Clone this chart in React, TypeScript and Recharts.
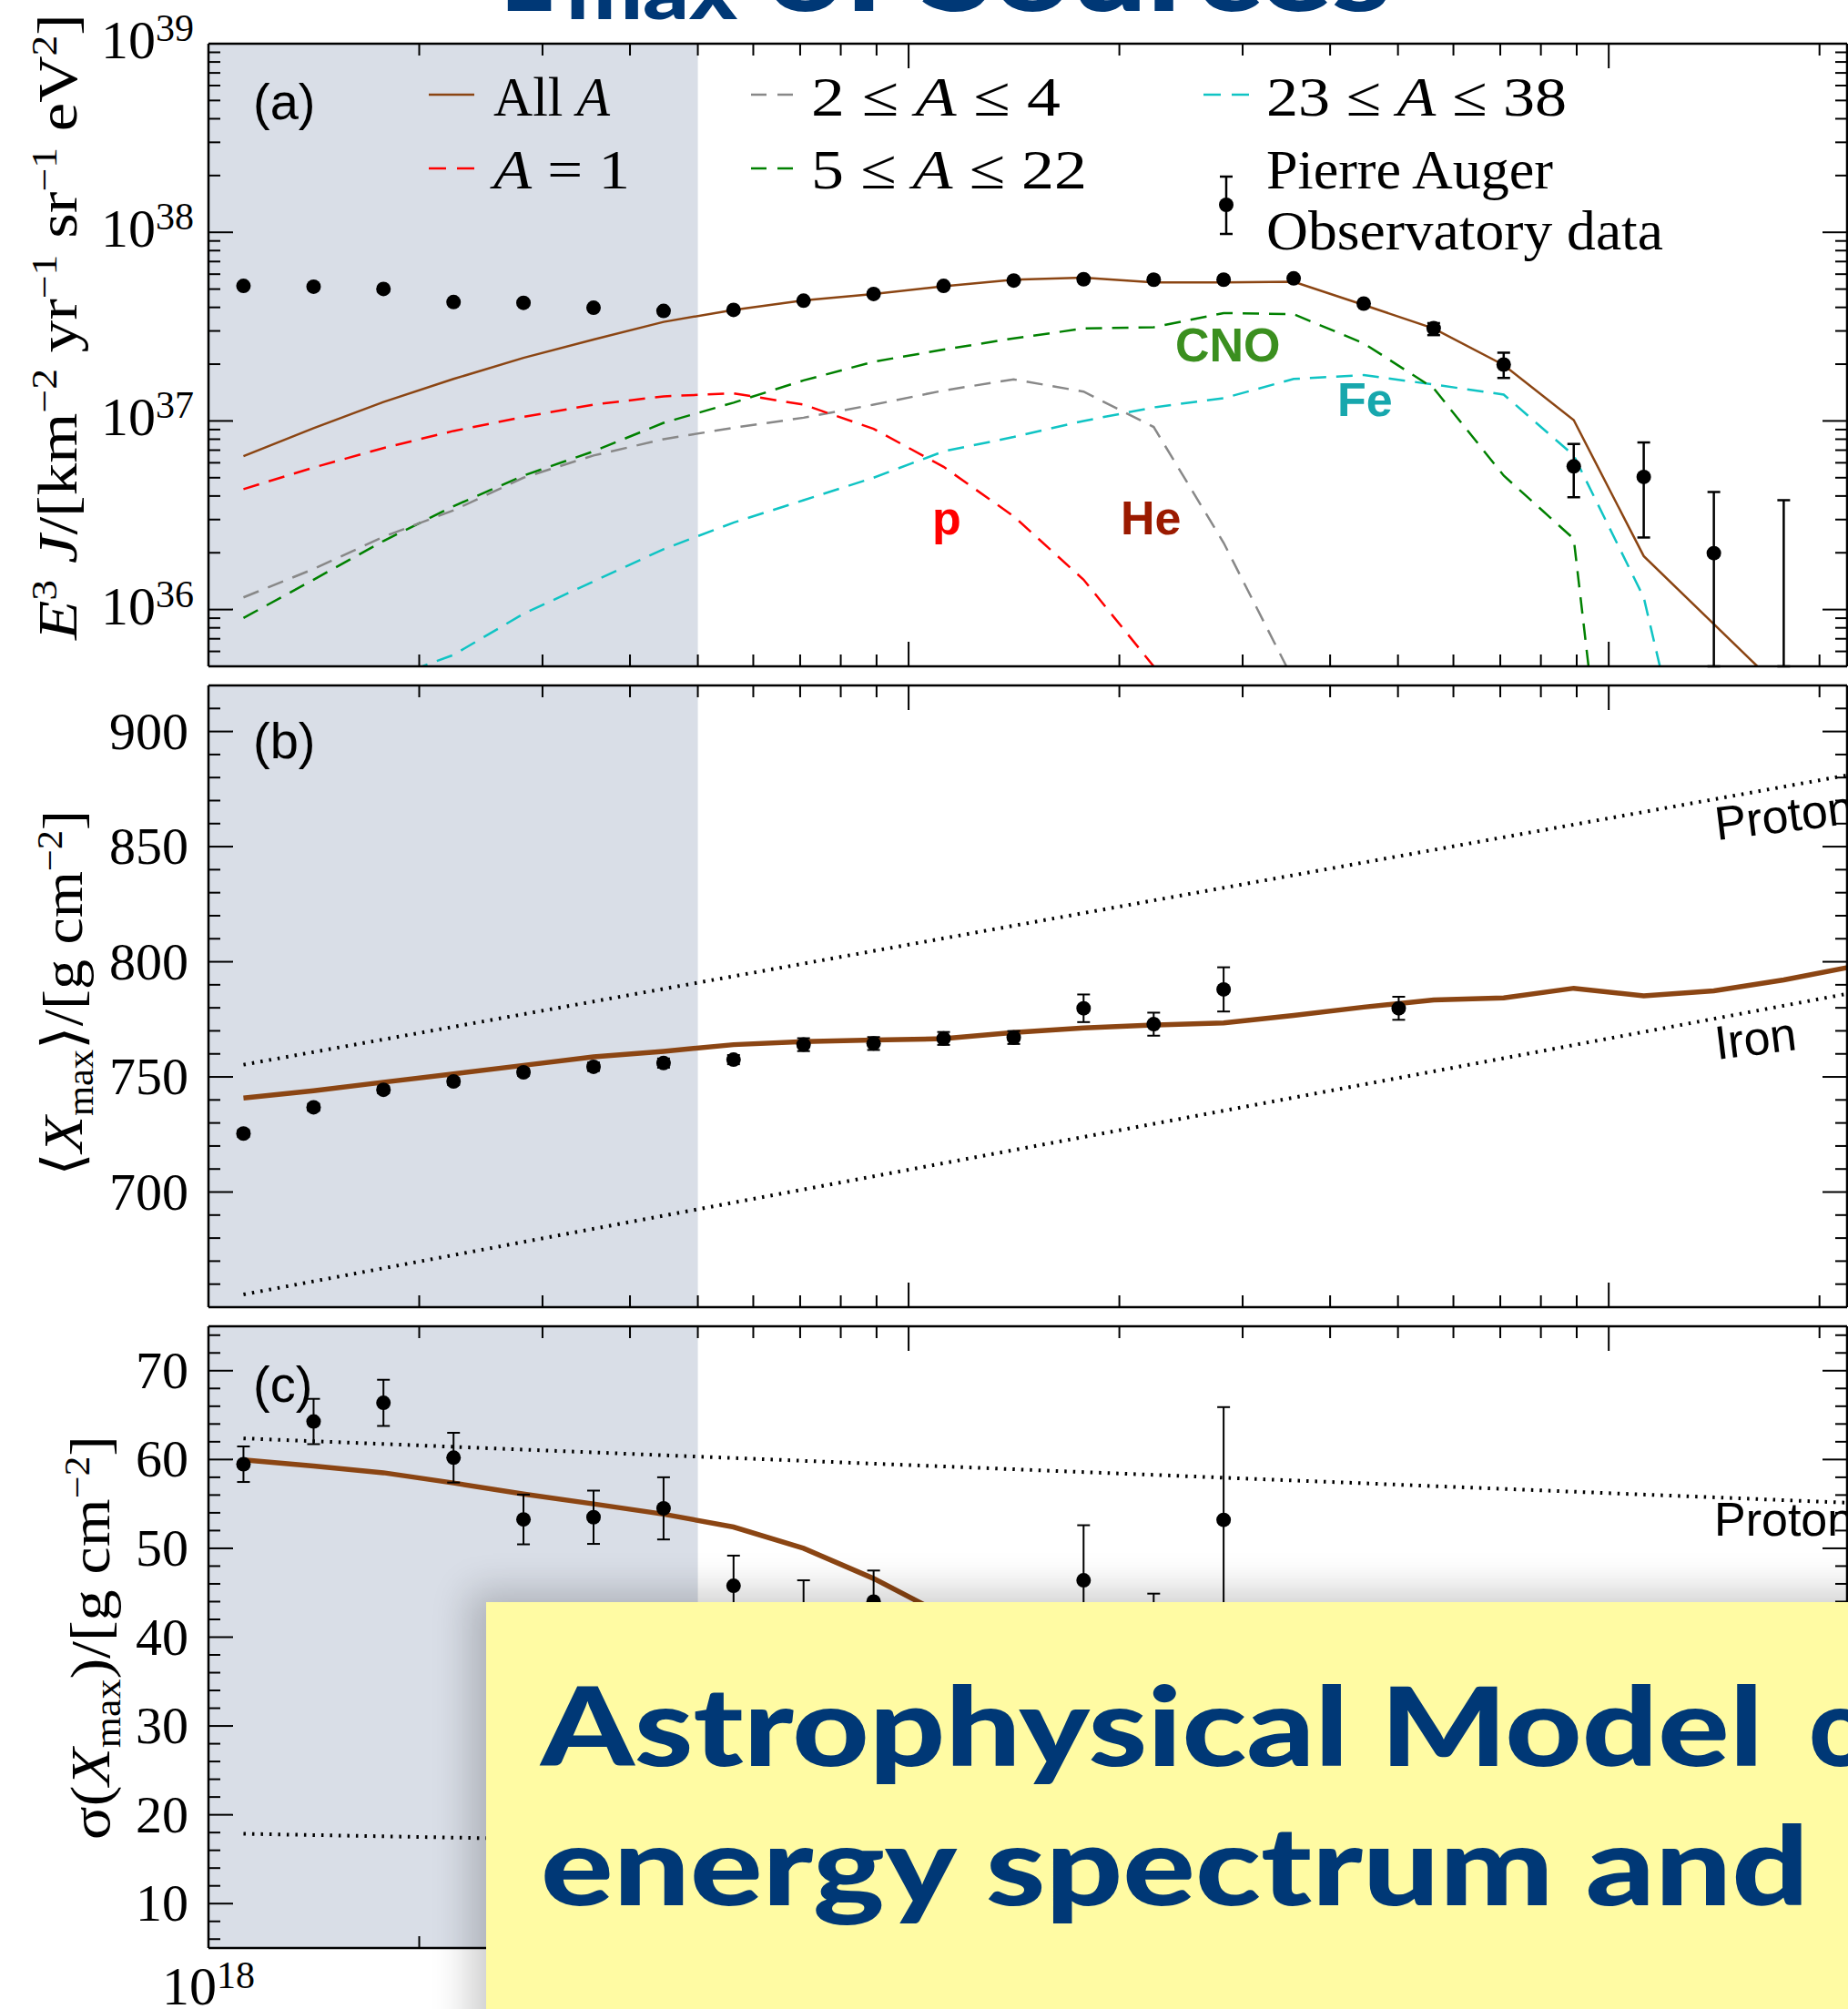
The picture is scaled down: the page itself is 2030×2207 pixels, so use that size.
import React from 'react';
import { ComposedChart, Line, Scatter, XAxis, YAxis, ErrorBar, ReferenceArea } from 'recharts';

const SERIF = '"Liberation Serif", "DejaVu Serif", serif';
const SANS = '"Liberation Sans", Arial, sans-serif';
const BANNER = 'Lato, "Open Sans", sans-serif';
const NAVY = '#003876';
const BROWN = '#8b4513';
const SHADE = '#d9dee7';

// bin centres, lg E = 18.05, 18.15, ... (eV)
const binEnergy = [1.122e18, 1.413e18, 1.778e18, 2.239e18, 2.818e18, 3.548e18, 4.467e18, 5.623e18, 7.079e18, 8.913e18,
  1.122e19, 1.413e19, 1.778e19, 2.239e19, 2.818e19, 3.548e19, 4.467e19, 5.623e19, 7.079e19, 8.913e19,
  1.122e20, 1.413e20, 1.778e20, 2.239e20];

const energyDomain = [1e18, 2.19e20];
const energyTicks = [1e18, 2e18, 3e18, 4e18, 5e18, 6e18, 7e18, 8e18, 9e18, 1e19, 2e19, 3e19, 4e19, 5e19, 6e19, 7e19, 8e19, 9e19, 1e20, 2e20];
const shadedBand = [1e18, 5e18];

// (a) spectrum
const fluxDomain = [5e35, 1e39];
const fluxTicks = [5e35, 6e35, 7e35, 8e35, 9e35, 1e36, 2e36, 3e36, 4e36, 5e36, 6e36, 7e36, 8e36, 9e36,
  1e37, 2e37, 3e37, 4e37, 5e37, 6e37, 7e37, 8e37, 9e37, 1e38, 2e38, 3e38, 4e38, 5e38, 6e38, 7e38, 8e38, 9e38, 1e39];
const modelAllA = [6.5e36, 9.16e36, 1.26e37, 1.67e37, 2.16e37, 2.7e37, 3.35e37, 3.88e37, 4.35e37, 4.71e37, 5.18e37, 5.61e37,
  5.75e37, 5.42e37, 5.42e37, 5.47e37, 4.12e37, 3.09e37, 1.98e37, 1.01e37, 1.92e36, 8.38e35, 3.66e35];
const modelA1 = [4.35e36, 5.66e36, 7.18e36, 8.85e36, 1.05e37, 1.22e37, 1.35e37, 1.4e37, 1.22e37, 9.08e36, 5.71e36, 3.12e36,
  1.44e36, 5.0e35, 1.6e35];
const modelA2to4 = [1.16e36, 1.64e36, 2.43e36, 3.36e36, 5.0e36, 6.56e36, 8.0e36, 9.2e36, 1.04e37, 1.22e37, 1.45e37, 1.66e37,
  1.43e37, 9.29e36, 2.26e36, 4.2e35];
const modelA5to22 = [9.02e35, 1.44e36, 2.31e36, 3.53e36, 5.13e36, 6.9e36, 9.77e36, 1.25e37, 1.64e37, 2.06e37, 2.39e37, 2.74e37,
  3.09e37, 3.14e37, 3.73e37, 3.68e37, 2.58e37, 1.49e37, 5.13e36, 2.37e36, 1.5e33];
const modelA23to38 = [1.9e35, 2.8e35, 4.2e35, 5.75e35, 9.5e35, 1.41e36, 2.09e36, 2.89e36, 3.8e36, 5.0e36, 6.9e36, 8.22e36,
  1.0e37, 1.18e37, 1.32e37, 1.67e37, 1.75e37, 1.56e37, 1.38e37, 6.56e36, 1.16e36, 3e34];
const augerFlux = [5.2e37, 5.15e37, 5.01e37, 4.27e37, 4.23e37, 3.98e37, 3.83e37, 3.88e37, 4.34e37, 4.71e37, 5.2e37, 5.55e37,
  5.64e37, 5.61e37, 5.61e37, 5.7e37, 4.19e37, 3.1e37, 1.99e37, 5.74e36, 5.05e36, 1.99e36];
const augerFluxErrLow = [5e35, 5e35, 5e35, 4e35, 4e35, 4e35, 4e35, 4e35, 4e35, 5e35, 5e35, 5e35, 5e35, 6e35, 6e35, 7e35,
  1e36, 2.5e36, 3.0e36, 1.8e36, 2.64e36, 1.49e36];
const augerFluxErrHigh = [5e35, 5e35, 5e35, 4e35, 4e35, 4e35, 4e35, 4e35, 4e35, 5e35, 5e35, 5e35, 5e35, 6e35, 6e35, 7e35,
  1e36, 2.0e36, 3.1e36, 1.81e36, 2.64e36, 2.21e36];
const augerLimitEnergy = [1.778e20];
const augerLimitTop = [3.8e36];

// (b) <Xmax>
const xmaxDomain = [650, 920];
const xmaxTicks = [660, 670, 680, 690, 700, 710, 720, 730, 740, 750, 760, 770, 780, 790, 800, 810, 820, 830, 840, 850,
  860, 870, 880, 890, 900, 910];
const xmaxEnergy = [1.122e18, 1.413e18, 1.778e18, 2.239e18, 2.818e18, 3.548e18, 4.467e18, 5.623e18, 7.079e18, 8.913e18,
  1.122e19, 1.413e19, 1.778e19, 2.239e19, 2.818e19, 5.012e19];
const xmaxData = [725.4, 736.8, 744.4, 748.0, 752.0, 754.4, 756.0, 757.5, 764.0, 764.5, 766.7, 767.1, 779.8, 772.9, 788.0, 779.8];
const xmaxErr = [1.5, 1.5, 1.5, 1.5, 1.5, 1.8, 2, 2, 2.8, 2.8, 2.8, 2.8, 6, 5, 9.6, 5];
const xmaxModel = [740.8, 744.0, 747.7, 751.3, 755.0, 758.7, 761.1, 764.0, 765.3, 766.0, 766.6, 769.3, 771.3, 772.5, 773.4,
  776.7, 780.3, 783.4, 784.3, 788.5, 785.2, 787.4, 792.1, 798.0];
const lineEnds = [1.122e18, 2.19e20];
const xmaxProton = [755.3, 881.0];
const xmaxIron = [655.5, 786.1];

// (c) sigma(Xmax)
const sigmaDomain = [5, 75];
const sigmaTicks = [6, 8, 10, 12, 14, 16, 18, 20, 22, 24, 26, 28, 30, 32, 34, 36, 38, 40, 42, 44, 46, 48, 50, 52, 54, 56,
  58, 60, 62, 64, 66, 68, 70, 72, 74];
const sigmaEnergy = [1.122e18, 1.413e18, 1.778e18, 2.239e18, 2.818e18, 3.548e18, 4.467e18, 5.623e18, 7.079e18, 8.913e18,
  1.778e19, 2.239e19, 2.818e19];
const sigmaData = [59.47, 64.28, 66.38, 60.21, 53.25, 53.5, 54.5, 45.78, 42.8, 44.0, 46.4, 41.5, 53.2];
const sigmaErr = [2.0, 2.55, 2.6, 2.8, 2.8, 3.0, 3.5, 3.4, 3.6, 3.5, 6.2, 3.4, 12.7];
const sigmaModel = [59.97, 59.26, 58.51, 57.36, 56.11, 55.0, 53.85, 52.4, 50.0, 46.6, 42.5];
const sigmaProton = [62.38, 55.14];
const sigmaIron = [17.86, 14.6];

const toPoints = (xs: number[], ys: number[]) => ys.map((y, i) => ({ x: xs[i], y }));

const MAJ = 27;
const MIN = 13;
const isDecade = (v: number) => Math.abs(Math.log10(v) - Math.round(Math.log10(v))) < 1e-6;

const makeXTick = (side: 'top' | 'bottom', labelled: boolean) => (p: any) => {
  const { x, y, payload } = p;
  const major = isDecade(payload.value);
  const len = major ? MAJ : MIN;
  return (
    <g>
      <line x1={x} y1={y} x2={x} y2={side === 'bottom' ? y - len : y + len} stroke="#000" strokeWidth={2} />
      {labelled && major && (
        <text x={x} y={y + 62} textAnchor="middle" fontFamily={SERIF} fontSize={60} fill="#000">
          10<tspan dy={-18} fontSize={42}>{Math.round(Math.log10(payload.value))}</tspan>
        </text>
      )}
    </g>
  );
};

const makeYTick = (side: 'left' | 'right', isMajor: (v: number) => boolean, label?: (v: number, x: number, y: number) => React.ReactNode) => (p: any) => {
  const { x, y, payload } = p;
  const major = isMajor(payload.value);
  const len = major ? MAJ : MIN;
  return (
    <g>
      <line x1={x} y1={y} x2={side === 'left' ? x + len : x - len} y2={y} stroke="#000" strokeWidth={2} />
      {label && major && label(payload.value, x, y)}
    </g>
  );
};

const powerLabel = (v: number, x: number, y: number) => (
  <text x={x - 16} y={y + 16} textAnchor="end" fontFamily={SERIF} fontSize={60} fill="#000">
    10<tspan dy={-19} fontSize={42}>{Math.round(Math.log10(v))}</tspan>
  </text>
);
const plainLabel = (v: number, x: number, y: number) => (
  <text x={x - 22} y={y + 19} textAnchor="end" fontFamily={SERIF} fontSize={58} fill="#000">{v}</text>
);

const axisLine = { stroke: '#000', strokeWidth: 2.5 };

function frame(yDomain: number[], yTicks: number[], yScale: 'log' | 'linear', isMajorY: (v: number) => boolean,
  yLabel: (v: number, x: number, y: number) => React.ReactNode, xLabelled: boolean) {
  return [
    <ReferenceArea key="band" xAxisId="b" yAxisId="l" x1={shadedBand[0]} x2={shadedBand[1]} fill={SHADE} fillOpacity={1} stroke="none" />,
    <XAxis key="xb" xAxisId="b" orientation="bottom" dataKey="x" type="number" scale="log" domain={energyDomain}
      allowDataOverflow ticks={energyTicks} interval={0} height={1} tickSize={0} tickMargin={0} tickLine={false}
      axisLine={axisLine} tick={makeXTick('bottom', xLabelled)} />,
    <XAxis key="xt" xAxisId="t" orientation="top" dataKey="x" type="number" scale="log" domain={energyDomain}
      allowDataOverflow ticks={energyTicks} interval={0} height={1} tickSize={0} tickMargin={0} tickLine={false}
      axisLine={axisLine} tick={makeXTick('top', false)} />,
    <YAxis key="yl" yAxisId="l" orientation="left" dataKey="y" type="number" scale={yScale} domain={yDomain}
      allowDataOverflow ticks={yTicks} interval={0} width={229} tickSize={0} tickMargin={0} tickLine={false}
      axisLine={axisLine} tick={makeYTick('left', isMajorY, yLabel)} />,
    <YAxis key="yr" yAxisId="r" orientation="right" dataKey="y" type="number" scale={yScale} domain={yDomain}
      allowDataOverflow ticks={yTicks} interval={0} width={1} tickSize={0} tickMargin={0} tickLine={false}
      axisLine={axisLine} tick={makeYTick('right', isMajorY)} />,
  ];
}

const dot = (r: number) => (p: any) => <circle cx={p.cx} cy={p.cy} r={r} fill="#000" />;
const noDot = () => <g />;

const series = { xAxisId: 'b', yAxisId: 'l', dot: false, activeDot: false, isAnimationActive: false, type: 'linear' as const };
const dotted = { stroke: '#000', strokeWidth: 4, strokeDasharray: '2.5 7' };

export default function App() {
  const augerPoints = augerFlux.map((y, i) => ({ x: binEnergy[i], y, err: [augerFluxErrLow[i], augerFluxErrHigh[i]] }));
  const limitPoints = augerLimitEnergy.map((x, i) => ({ x, y: fluxDomain[0], err: [0, augerLimitTop[i] - fluxDomain[0]] }));
  const xmaxPoints = xmaxData.map((y, i) => ({ x: xmaxEnergy[i], y, err: xmaxErr[i] }));
  const sigmaPoints = sigmaData.map((y, i) => ({ x: sigmaEnergy[i], y, err: sigmaErr[i] }));

  const sup = 40;
  return (
    <div style={{ position: 'absolute', left: 0, top: 0, width: 2030, height: 2207, overflow: 'hidden', background: '#fff' }}>
      {/* (a) */}
      <div style={{ position: 'absolute', left: 0, top: 0 }}>
        <ComposedChart width={2030} height={742} margin={{ top: 47, right: 0, bottom: 9, left: 0 }}>
          {frame(fluxDomain, fluxTicks, 'log', isDecade, powerLabel, false)}
          <Line {...series} data={toPoints(binEnergy, modelA23to38)} dataKey="y" stroke="#10c4c4" strokeWidth={2.5} strokeDasharray="18 11" />
          <Line {...series} data={toPoints(binEnergy, modelA5to22)} dataKey="y" stroke="#008000" strokeWidth={2.5} strokeDasharray="18 11" />
          <Line {...series} data={toPoints(binEnergy, modelA2to4)} dataKey="y" stroke="#888888" strokeWidth={2.5} strokeDasharray="18 11" />
          <Line {...series} data={toPoints(binEnergy, modelA1)} dataKey="y" stroke="#ff0000" strokeWidth={2.5} strokeDasharray="18 11" />
          <Line {...series} data={toPoints(binEnergy, modelAllA)} dataKey="y" stroke={BROWN} strokeWidth={2.5} />
          <Scatter xAxisId="b" yAxisId="l" data={augerPoints} dataKey="y" isAnimationActive={false} shape={dot(8)}>
            <ErrorBar dataKey="err" direction="y" width={7} stroke="#000" strokeWidth={2.5} isAnimationActive={false} />
          </Scatter>
          <Scatter xAxisId="b" yAxisId="l" data={limitPoints} dataKey="y" isAnimationActive={false} shape={noDot}>
            <ErrorBar dataKey="err" direction="y" width={7} stroke="#000" strokeWidth={2.5} isAnimationActive={false} />
          </Scatter>
        </ComposedChart>
      </div>

      {/* (b) */}
      <div style={{ position: 'absolute', left: 0, top: 742 }}>
        <ComposedChart width={2030} height={704} margin={{ top: 10, right: 0, bottom: 9, left: 0 }}>
          {frame(xmaxDomain, xmaxTicks, 'linear', (v) => v % 50 === 0, plainLabel, false)}
          <Line {...series} data={toPoints(lineEnds, xmaxProton)} dataKey="y" {...dotted} />
          <Line {...series} data={toPoints(lineEnds, xmaxIron)} dataKey="y" {...dotted} />
          <Line {...series} data={toPoints(binEnergy, xmaxModel)} dataKey="y" stroke={BROWN} strokeWidth={5.5} />
          <Scatter xAxisId="b" yAxisId="l" data={xmaxPoints} dataKey="y" isAnimationActive={false} shape={dot(8)}>
            <ErrorBar dataKey="err" direction="y" width={7} stroke="#000" strokeWidth={2} isAnimationActive={false} />
          </Scatter>
        </ComposedChart>
      </div>

      {/* (c) */}
      <div style={{ position: 'absolute', left: 0, top: 1446 }}>
        <ComposedChart width={2030} height={761} margin={{ top: 10, right: 0, bottom: 66, left: 0 }}>
          {frame(sigmaDomain, sigmaTicks, 'linear', (v) => v % 10 === 0, plainLabel, true)}
          <Line {...series} data={toPoints(lineEnds, sigmaProton)} dataKey="y" {...dotted} />
          <Line {...series} data={toPoints(lineEnds, sigmaIron)} dataKey="y" {...dotted} />
          <Line {...series} data={toPoints(binEnergy, sigmaModel)} dataKey="y" stroke={BROWN} strokeWidth={5.5} />
          <Scatter xAxisId="b" yAxisId="l" data={sigmaPoints} dataKey="y" isAnimationActive={false} shape={dot(8)}>
            <ErrorBar dataKey="err" direction="y" width={7} stroke="#000" strokeWidth={2} isAnimationActive={false} />
          </Scatter>
        </ComposedChart>
      </div>

      {/* titles, legend and annotations */}
      <svg width={2030} height={2207} style={{ position: 'absolute', left: 0, top: 0, pointerEvents: 'none' }}>
        <g fill={NAVY} fontFamily={BANNER} fontWeight={900}>
          <text x={550} y={12} fontSize={120} textLength={59} lengthAdjust="spacingAndGlyphs">E</text>
          <text x={622} y={21} fontSize={84} textLength={188} lengthAdjust="spacingAndGlyphs">max</text>
          <text x={842} y={12} fontSize={120} textLength={686} lengthAdjust="spacingAndGlyphs">of Sources</text>
        </g>

        <g fontFamily={SERIF} fontSize={62} fill="#000">
          <line x1={471} y1={104} x2={521} y2={104} stroke={BROWN} strokeWidth={2.5} />
          <text x={542} y={127} textLength={128} lengthAdjust="spacingAndGlyphs">All <tspan fontStyle="italic">A</tspan></text>
          <line x1={471} y1={185} x2={521} y2={185} stroke="#ff0000" strokeWidth={2.5} strokeDasharray="19 12" />
          <text x={542} y={207} textLength={150} lengthAdjust="spacingAndGlyphs"><tspan fontStyle="italic">A</tspan> = 1</text>
          <line x1={825} y1={104} x2={872} y2={104} stroke="#888888" strokeWidth={2.5} strokeDasharray="17 12" />
          <text x={891} y={127} textLength={274} lengthAdjust="spacingAndGlyphs">2 ≤ <tspan fontStyle="italic">A</tspan> ≤ 4</text>
          <line x1={825} y1={185} x2={872} y2={185} stroke="#008000" strokeWidth={2.5} strokeDasharray="17 12" />
          <text x={891} y={207} textLength={303} lengthAdjust="spacingAndGlyphs">5 ≤ <tspan fontStyle="italic">A</tspan> ≤ 22</text>
          <line x1={1322} y1={104} x2={1372} y2={104} stroke="#10c4c4" strokeWidth={2.5} strokeDasharray="19 12" />
          <text x={1391} y={127} textLength={330} lengthAdjust="spacingAndGlyphs">23 ≤ <tspan fontStyle="italic">A</tspan> ≤ 38</text>
          <line x1={1347} y1={194} x2={1347} y2={257} stroke="#000" strokeWidth={2.5} />
          <line x1={1340} y1={194} x2={1354} y2={194} stroke="#000" strokeWidth={2.5} />
          <line x1={1340} y1={257} x2={1354} y2={257} stroke="#000" strokeWidth={2.5} />
          <circle cx={1347} cy={225} r={8} fill="#000" />
          <text x={1391} y={207} textLength={315} lengthAdjust="spacingAndGlyphs">Pierre Auger</text>
          <text x={1391} y={274} textLength={436} lengthAdjust="spacingAndGlyphs">Observatory data</text>
        </g>

        <g fontFamily={SANS} fontSize={56} fill="#000">
          <text x={278} y={131}>(a)</text>
          <text x={278} y={833}>(b)</text>
          <text x={278} y={1540}>(c)</text>
        </g>

        <g fontFamily={SANS} fontSize={52} fontWeight={700}>
          <text x={1024} y={587} fill="#ff0000">p</text>
          <text x={1231} y={587} fill="#9b1a00">He</text>
          <text x={1291} y={397} fill="#3b8f1f">CNO</text>
          <text x={1469} y={457} fill="#17a7ad">Fe</text>
        </g>

        <g fontFamily={SANS} fontSize={52} fill="#000">
          <text transform="translate(1886 923) rotate(-7)">Proton</text>
          <text transform="translate(1886 1164) rotate(-7)">Iron</text>
          <text x={1883} y={1687}>Proton</text>
        </g>

        <g fontFamily={SERIF} fontSize={62} fill="#000" textAnchor="middle">
          <text transform="translate(84 359) rotate(-90)" textLength={688} lengthAdjust="spacingAndGlyphs">
            <tspan fontStyle="italic">E</tspan><tspan dy={-22} fontSize={sup}>3</tspan><tspan dy={22}> </tspan>
            <tspan fontStyle="italic">J</tspan><tspan>/[km</tspan><tspan dy={-22} fontSize={sup}>−2</tspan>
            <tspan dy={22}> yr</tspan><tspan dy={-22} fontSize={sup}>−1</tspan>
            <tspan dy={22}> sr</tspan><tspan dy={-22} fontSize={sup}>−1</tspan>
            <tspan dy={22}> eV</tspan><tspan dy={-22} fontSize={sup}>2</tspan><tspan dy={22}>]</tspan>
          </text>
          <text transform="translate(90 1091) rotate(-90)" textLength={402} lengthAdjust="spacingAndGlyphs">
            ⟨<tspan fontStyle="italic">X</tspan><tspan dy={12} fontSize={sup}>max</tspan><tspan dy={-12}>⟩/[g cm</tspan>
            <tspan dy={-22} fontSize={sup}>−2</tspan><tspan dy={22}>]</tspan>
          </text>
          <text transform="translate(120 1799) rotate(-90)" textLength={444} lengthAdjust="spacingAndGlyphs">
            σ(<tspan fontStyle="italic">X</tspan><tspan dy={12} fontSize={sup}>max</tspan><tspan dy={-12}>)/[g cm</tspan>
            <tspan dy={-22} fontSize={sup}>−2</tspan><tspan dy={22}>]</tspan>
          </text>
        </g>
      </svg>

      {/* yellow banner */}
      <div style={{ position: 'absolute', left: 534, top: 1760, width: 1600, height: 600, background: '#fffba3',
        boxShadow: '-12px -6px 40px 6px rgba(0,0,0,0.2)' }}>
        <svg width={1600} height={600} style={{ position: 'absolute', left: 0, top: 0 }}>
          <g fill={NAVY} fontFamily={BANNER} fontWeight={900} fontSize={120}>
            <text x={60} y={180} textLength={1343} lengthAdjust="spacingAndGlyphs">Astrophysical Model</text>
            <text x={1453} y={180}>of</text>
            <text x={60} y={333} textLength={1393} lengthAdjust="spacingAndGlyphs">energy spectrum and</text>
          </g>
        </svg>
      </div>
    </div>
  );
}
